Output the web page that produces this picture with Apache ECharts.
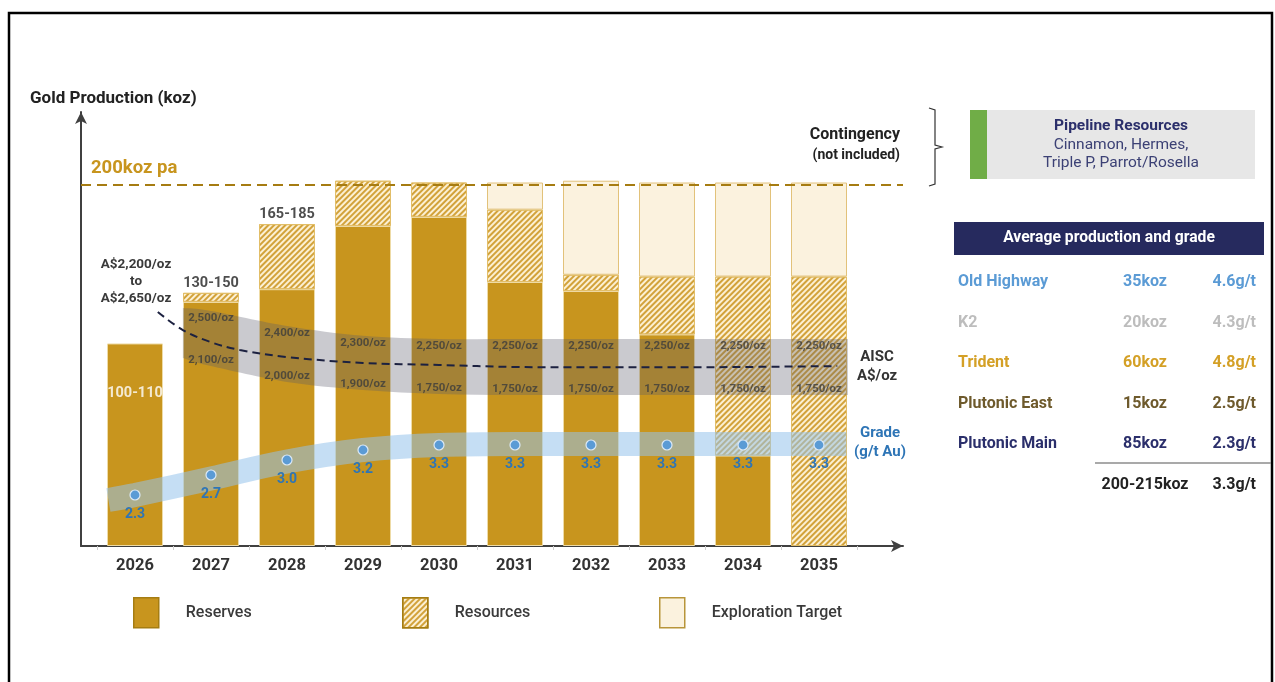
<!DOCTYPE html>
<html><head><meta charset="utf-8">
<script src="https://cdn.jsdelivr.net/npm/echarts@6/dist/echarts.min.js"></script>
<style>html,body{margin:0;padding:0;background:#fff}#c{width:1275px;height:682px}</style>
</head><body><div id="c"></div>
<script>
// ---------- data ----------
const years = ['2026','2027','2028','2029','2030','2031','2032','2033','2034','2035'];
const reserves    = [112, 135, 142, 177, 182, 146, 141, 117, 50, 0];
const resources   = [0, 5, 36, 25, 19, 40, 9, 32, 99, 149];
const exploration = [0, 0, 0, 0, 0, 15, 52, 52, 52, 52];
const rangeLabels = ['100-110', '130-150', '165-185', '', '', '', '', '', '', ''];
const targetKoz = 200;

const grade = [2.3, 2.7, 3.0, 3.2, 3.3, 3.3, 3.3, 3.3, 3.3, 3.3];
const gradeBandX = [-0.35, 0, 1, 2, 3, 4, 5, 9.36];
const gradeBand  = [2.2, 2.3, 2.63, 2.97, 3.2, 3.3, 3.32, 3.32];

const aiscHigh = [null, 2500, 2400, 2300, 2250, 2250, 2250, 2250, 2250, 2250];
const aiscLow  = [null, 2100, 2000, 1900, 1750, 1750, 1750, 1750, 1750, 1750];
const aiscBandX      = [0.63, 1, 2, 3, 4, 5, 6, 7, 8, 9, 9.38];
const aiscBandTop    = [131.6, 130.0, 121.7, 116.2, 114.5, 114.5, 114.5, 114.5, 114.5, 114.5, 114.5];
const aiscBandBottom = [104.0, 99.5, 90.7, 86.3, 84.1, 83.5, 83.5, 83.5, 83.5, 83.5, 83.5];
const aiscTrendX = [0.3, 0.63, 1, 1.38, 2, 3, 4, 5, 6, 7, 8, 9.24];
const aiscTrend  = [129.4, 119.4, 112.7, 108.4, 104.5, 101.2, 100.1, 99, 98.8, 98.8, 99, 99.5];

const mines      = ['Old Highway', 'K2', 'Trident', 'Plutonic East', 'Plutonic Main'];
const mineKoz    = ['35koz', '20koz', '60koz', '15koz', '85koz'];
const mineGrade  = ['4.6g/t', '4.3g/t', '4.8g/t', '2.5g/t', '2.3g/t'];
const totalKoz   = '200-215koz';
const totalGrade = '3.3g/t';
const pipeline   = ['Pipeline Resources', 'Cinnamon, Hermes,', 'Triple P, Parrot/Rosella'];

// ---------- styles ----------
const FONT = 'Roboto, "Noto Sans", sans-serif';
const GOLD = '#C8951E';
const mineColors = ['#5B9BD5', '#BDBDBD', '#D4A026', '#6E5A2C', '#2B2F6B'];

const chart = echarts.init(document.getElementById('c'), null, {renderer: 'canvas'});

const fmt = v => v.toLocaleString('en-US') + '/oz';
const totals = reserves.map((r, i) => r + resources[i] + exploration[i]);
const nz = a => a.map(v => v === 0 ? null : v);

const aiscHighPts = [], aiscLowPts = [];
aiscBandX.forEach((x, k) => {
  if (Number.isInteger(x) && aiscHigh[x] != null) {
    aiscHighPts.push([x, aiscBandTop[k], aiscHigh[x]]);
    aiscLowPts.push([x, aiscBandBottom[k], aiscLow[x]]);
  }
});

const rangeData = totals.map((t, i) => {
  const inside = resources[i] === 0 && exploration[i] === 0;
  return {
    value: t,
    label: inside
      ? {position: 'insideTop', offset: [0, 37], color: '#fff', fontSize: 14.5}
      : {position: 'top', distance: 2, color: '#222', fontSize: 14.5}
  };
});

// smooth curve (Catmull-Rom -> cubic Bezier) through pixel points
function curveTo(pts, k) {
  let d = '';
  for (let i = 0; i < pts.length - 1; i++) {
    const p0 = pts[Math.max(i - 1, 0)], p1 = pts[i], p2 = pts[i + 1], p3 = pts[Math.min(i + 2, pts.length - 1)];
    const c1 = [p1[0] + (p2[0] - p0[0]) * k, p1[1] + (p2[1] - p0[1]) * k];
    const c2 = [p2[0] - (p3[0] - p1[0]) * k, p2[1] - (p3[1] - p1[1]) * k];
    d += ' C' + c1[0] + ' ' + c1[1] + ' ' + c2[0] + ' ' + c2[1] + ' ' + p2[0] + ' ' + p2[1];
  }
  return d;
}

const aiscLabelStyle = {show: true, position: 'inside', fontFamily: FONT, fontWeight: 'bold', fontSize: 11.5, color: '#3c3c3c'};

const gfx = [];
gfx.push({type: 'rect', shape: {x: 9, y: 13, width: 1263, height: 720}, style: {fill: 'none', stroke: '#000', lineWidth: 2.5}, z: 100});
const txt = (x, y, text, font, fill, align) => ({type: 'text', x, y, z: 100, style: {text, font, fill, align: align || 'left', verticalAlign: 'middle'}});
gfx.push(txt(30, 99, 'Gold Production (koz)', 'bold 17px ' + FONT, '#222'));
gfx.push(txt(91, 168, targetKoz + 'koz pa', 'bold 18.5px ' + FONT, GOLD));
gfx.push(txt(136, 265, 'A$2,200/oz', 'bold 13.5px ' + FONT, '#3a3a3a', 'center'));
gfx.push(txt(136, 282, 'to', 'bold 13.5px ' + FONT, '#3a3a3a', 'center'));
gfx.push(txt(136, 299, 'A$2,650/oz', 'bold 13.5px ' + FONT, '#3a3a3a', 'center'));
gfx.push(txt(900, 135, 'Contingency', 'bold 16px ' + FONT, '#222', 'right'));
gfx.push(txt(900, 155, '(not included)', 'bold 14px ' + FONT, '#222', 'right'));
gfx.push(txt(877, 357, 'AISC', 'bold 15px ' + FONT, '#333', 'center'));
gfx.push(txt(877, 376, 'A$/oz', 'bold 15px ' + FONT, '#333', 'center'));
gfx.push(txt(880, 433, 'Grade', 'bold 15px ' + FONT, '#2E75B6', 'center'));
gfx.push(txt(880, 452, '(g/t Au)', 'bold 15px ' + FONT, '#2E75B6', 'center'));
gfx.push({type: 'polyline', z: 100, shape: {points: [[929, 108], [935, 110], [935, 145], [942, 147], [935, 149], [935, 184], [929, 186]]}, style: {stroke: '#333', lineWidth: 1.2, fill: 'none'}});
gfx.push({type: 'rect', z: 100, shape: {x: 970, y: 110, width: 17, height: 69}, style: {fill: '#70AD47'}});
gfx.push({type: 'rect', z: 100, shape: {x: 987, y: 110, width: 268, height: 69}, style: {fill: '#E7E7E7'}});
gfx.push(txt(1121, 126, pipeline[0], 'bold 15.5px ' + FONT, '#2B2F6B', 'center'));
gfx.push(txt(1121, 145, pipeline[1], '15.5px ' + FONT, '#3C4175', 'center'));
gfx.push(txt(1121, 163, pipeline[2], '15.5px ' + FONT, '#3C4175', 'center'));
gfx.push({type: 'rect', z: 100, shape: {x: 954, y: 222, width: 310, height: 33}, style: {fill: '#262A5E'}});
gfx.push(txt(1109, 238, 'Average production and grade', 'bold 15.7px ' + FONT, '#fff', 'center'));
mines.forEach((m, i) => {
  const y = 282 + i * 40.5;
  gfx.push(txt(958, y, m, 'bold 16px ' + FONT, mineColors[i]));
  gfx.push(txt(1145, y, mineKoz[i], 'bold 16px ' + FONT, mineColors[i], 'center'));
  gfx.push(txt(1256, y, mineGrade[i], 'bold 16px ' + FONT, mineColors[i], 'right'));
});
gfx.push({type: 'line', z: 100, shape: {x1: 1095, y1: 463, x2: 1271, y2: 463}, style: {stroke: '#8c8c8c', lineWidth: 1.5}});
gfx.push(txt(1145, 485, totalKoz, 'bold 16px ' + FONT, '#222', 'center'));
gfx.push(txt(1256, 485, totalGrade, 'bold 16px ' + FONT, '#222', 'right'));

const legendBase = (left, name, itemStyle) => ({
  left, top: 592, itemWidth: 25, itemHeight: 30, icon: 'rect',
  data: [{name, itemStyle}],
  textStyle: {fontFamily: FONT, fontSize: 16, fontWeight: 500, color: '#3a3a3a', padding: [0, 0, 0, 22]},
  selectedMode: false
});

const option = {
  animation: false,
  backgroundColor: '#fff',
  textStyle: {fontFamily: FONT},
  grid: [
    {left: 97, width: 760, top: 112, bottom: 136},
    {left: 81, width: 822, top: 112, bottom: 136}
  ],
  legend: [
    legendBase(128, 'Reserves', {borderColor: '#A57D12', borderWidth: 1.5}),
    legendBase(397, 'Resources', {borderColor: '#A57D12', borderWidth: 1.5}),
    legendBase(654, 'Exploration Target', {borderColor: '#B8953A', borderWidth: 1.5})
  ],
  xAxis: [
    {type: 'category', gridIndex: 0, data: years,
     axisLine: {show: false},
     axisTick: {show: true, length: 4, lineStyle: {color: '#d0d0d0'}},
     axisLabel: {margin: 11, fontFamily: FONT, fontWeight: 'bold', fontSize: 16.5, color: '#333'}},
    {type: 'value', gridIndex: 0, min: -0.5, max: 9.5, show: false},
    {type: 'value', gridIndex: 1, min: 0, max: 1,
     axisLine: {show: true, symbol: ['none', 'arrow'], symbolSize: [9, 12], lineStyle: {color: '#404040', width: 2}},
     axisTick: {show: false}, axisLabel: {show: false}, splitLine: {show: false}}
  ],
  yAxis: [
    {type: 'value', gridIndex: 0, min: 0, max: 240, show: false},
    {type: 'value', gridIndex: 0, min: 1.28, max: 9.96, show: false},
    {type: 'value', gridIndex: 1, min: 0, max: 240,
     axisLine: {show: true, symbol: ['none', 'arrow'], symbolSize: [9, 12], lineStyle: {color: '#404040', width: 2}},
     axisTick: {show: false}, axisLabel: {show: false}, splitLine: {show: false}}
  ],
  series: [
    {type: 'line', xAxisIndex: 2, yAxisIndex: 2, data: [[0, 0]], showSymbol: false, silent: true,
     lineStyle: {opacity: 0},
     markLine: {symbol: 'none', silent: true, label: {show: false},
       lineStyle: {type: [10, 6], color: '#A67C12', width: 2.2}, data: [{yAxis: targetKoz}]}},
    {name: 'Reserves', type: 'bar', stack: 'p', barWidth: 56, z: 2, data: nz(reserves),
     itemStyle: {color: GOLD, borderColor: '#EEDBA6', borderWidth: 1}},
    {name: 'Resources', type: 'bar', stack: 'p', barWidth: 56, z: 2, data: nz(resources),
     itemStyle: {color: '#FCF0D3', borderColor: '#E2BE68', borderWidth: 1,
       decal: {symbol: 'rect', symbolSize: 1, dashArrayX: [1, 0], dashArrayY: [2, 2], rotation: -Math.PI / 4, color: '#D2A23A'}}},
    {name: 'Exploration Target', type: 'bar', stack: 'p', barWidth: 56, z: 2, data: nz(exploration),
     itemStyle: {color: '#FBF2DE', borderColor: '#E2C27A', borderWidth: 1}},
    // AISC band: region between bandBottom and bandTop
    {type: 'custom', xAxisIndex: 1, yAxisIndex: 0, silent: true, z: 3, data: [0],
     renderItem: (params, api) => {
       const top = aiscBandX.map((x, i) => api.coord([x, aiscBandTop[i]]));
       const bot = aiscBandX.map((x, i) => api.coord([x, aiscBandBottom[i]])).reverse();
       const d = 'M' + top[0][0] + ' ' + top[0][1] + curveTo(top, 0.16) +
                 ' L' + bot[0][0] + ' ' + bot[0][1] + curveTo(bot, 0.16) + ' Z';
       return {type: 'path', shape: {pathData: d}, style: {fill: 'rgba(90,90,105,0.32)'}};
     }},
    // Grade band
    {type: 'line', xAxisIndex: 1, yAxisIndex: 1, smooth: 0.4, showSymbol: false, silent: true, z: 4,
     data: gradeBandX.map((x, i) => [x, gradeBand[i]]),
     lineStyle: {width: 24, color: 'rgba(150,195,235,0.55)', cap: 'butt'}},
    // AISC trend
    {type: 'line', xAxisIndex: 1, yAxisIndex: 0, smooth: 0.35, showSymbol: false, silent: true, z: 5,
     data: aiscTrendX.map((x, i) => [x, aiscTrend[i]]),
     lineStyle: {width: 2, color: '#1C2140', type: [8, 5]}},
    // AISC labels
    {type: 'scatter', xAxisIndex: 1, yAxisIndex: 0, symbolSize: 0, silent: true, z: 7,
     data: aiscHighPts, label: Object.assign({offset: [0, 7], formatter: p => fmt(p.value[2])}, aiscLabelStyle)},
    {type: 'scatter', xAxisIndex: 1, yAxisIndex: 0, symbolSize: 0, silent: true, z: 7,
     data: aiscLowPts, label: Object.assign({offset: [0, -6], formatter: p => fmt(p.value[2])}, aiscLabelStyle)},
    // grade dots
    {type: 'scatter', xAxisIndex: 1, yAxisIndex: 1, symbolSize: 10, z: 6, silent: true,
     data: grade.map((g, i) => [i, g]),
     itemStyle: {color: '#5B9BD5', borderColor: '#DCE9F6', borderWidth: 1.2, opacity: 1},
     label: {show: true, position: 'bottom', distance: 7, formatter: p => p.value[1].toFixed(1),
       fontFamily: FONT, fontWeight: 'bold', fontSize: 14, color: '#2E75B6'}},
    // range labels
    {type: 'scatter', xAxisIndex: 0, yAxisIndex: 0, symbolSize: 0, silent: true, z: 7,
     data: rangeData,
     label: {show: true, formatter: p => rangeLabels[p.dataIndex], fontFamily: FONT, fontWeight: 'bold'}}
  ],
  graphic: gfx
};
chart.setOption(option);
</script>
</body></html>
